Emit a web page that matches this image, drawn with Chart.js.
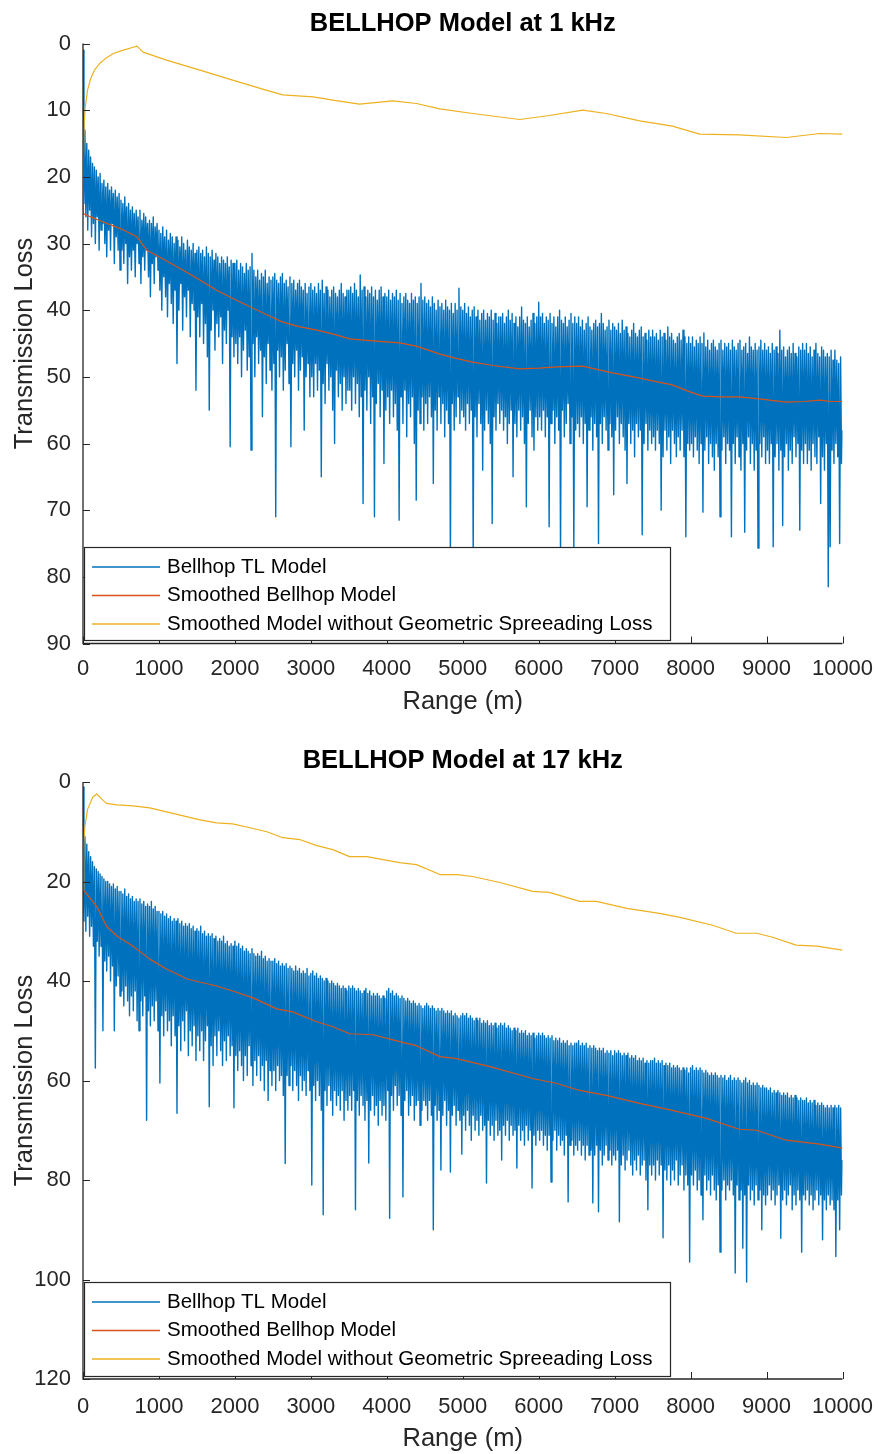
<!DOCTYPE html>
<html>
<head>
<meta charset="utf-8">
<title>BELLHOP transmission loss</title>
<script src="https://cdn.jsdelivr.net/npm/chart.js@4"></script>
<style>
  html, body { margin: 0; padding: 0; background: #fff; overflow: hidden; }
  .panel { position: absolute; left: 0; width: 881px; }
</style>
</head>
<body>
<div class="panel" style="top:0;height:727px"><canvas id="tl1k" width="881" height="727"></canvas></div>
<div class="panel" style="top:737px;height:717px"><canvas id="tl17k" width="881" height="717"></canvas></div>
<script>
// Bellhop output is sampled every 12.5 m from 0 to 10000 m
const RANGE_STEP = 12.5;
const RANGE_MAX = 10000;
const RANGE_TICK = 1000;

// ---- 1 kHz run (one row = 500 m) ---------------------------------------
const tl1k = [
  1, 24, 13, 26, 15, 28, 16, 25, 17, 29, 18, 27, 18.5, 30, 19, 26, 20, 31, 19.5, 28, 21, 27, 20.5, 30, 21.5, 32, 21, 28, 22, 31, 21.5, 27, 22.5, 33, 22, 29, 23, 31, 22.5, 34,
  23.5, 31, 24, 33, 23, 30, 24.5, 36, 24, 32, 25, 34, 24.5, 31, 25.5, 35, 25, 30, 26, 33, 25, 36, 26.5, 32, 25.5, 34, 26, 31, 27, 35, 26.5, 38, 27, 33, 26, 36, 27.5, 32, 27, 34,
  28, 37, 28.5, 40, 27.5, 35, 29, 38, 28, 41, 29.5, 36, 28.5, 39, 29, 42, 30, 37, 29, 48, 29.5, 40, 30.5, 36, 29, 43, 30, 38, 31, 41, 29.5, 37, 30.5, 44, 31, 39, 30, 40, 31.5, 52,
  31, 41, 30.5, 44, 31.5, 39, 31, 45, 32, 42, 30.5, 47, 31.5, 55, 32, 43, 31, 40, 32.5, 46, 31.5, 42, 32, 44, 33, 41, 32, 48, 32.5, 43, 33, 45, 32, 40, 33.5, 60.5, 32.5, 44, 33, 47,
  33, 45, 32.5, 48, 34, 44, 33, 50, 33.5, 46, 34.5, 43, 33, 49, 34, 47, 33.5, 61, 31.5, 45, 34, 50, 35, 44, 34, 48, 35.5, 46, 34.5, 56, 35, 47, 34, 51, 36, 45, 35, 49, 35.5, 52,
  35, 48, 34.5, 71, 35.5, 46, 36, 50, 35, 47, 34.5, 52, 36, 49, 35.5, 45, 36.5, 51, 35, 60.5, 36, 48, 35.5, 50, 37, 46, 36, 52, 35.5, 49, 36.5, 47, 37, 58, 36, 50, 37.5, 48, 36.5, 53,
  36, 50, 37, 53, 36.5, 48, 37.5, 52, 36, 49, 37, 65, 35.5, 51, 37.5, 54, 36.5, 48, 37, 52, 38, 50, 37, 55, 36.5, 60, 37.5, 49, 38, 53, 37, 51, 36, 55, 37.5, 50, 38, 54, 37, 52,
  37, 52, 36.5, 55, 37.5, 50, 36, 54, 37, 51, 38, 56, 34.7, 53, 37, 69, 36.5, 52, 38, 55, 37, 50, 37.5, 57, 36.5, 53, 38, 71, 37, 54, 38.5, 51, 37, 56, 36.5, 52, 38, 63, 37.5, 55,
  38, 53, 37, 57, 38.5, 52, 37.5, 56, 38, 54, 37, 58, 38.5, 71.5, 37.5, 53, 39, 57, 38, 52, 37.5, 59, 38.5, 54, 39, 56, 37.5, 53, 38.5, 60, 38, 68.5, 39, 55, 38, 57, 36, 53, 38.5, 58,
  38, 54, 39, 57, 38.5, 53, 39.5, 56, 38, 66, 39, 55, 40, 58, 38.5, 53, 39.5, 57, 39, 54, 40, 59, 38.5, 55, 39.5, 57, 40, 78, 39, 54, 40.5, 58, 39, 56, 40, 53, 36.7, 57, 39.5, 55,
  40, 56, 39, 58, 40.5, 54, 39.5, 57, 41, 55, 40, 77, 39.5, 56, 41, 59, 40, 54, 41.5, 57, 40.5, 64, 40, 58, 41.5, 55, 40.5, 57, 41, 60, 40, 72, 41.5, 56, 40.5, 58, 42, 54, 41, 57,
  41, 55, 40.5, 58, 42, 56, 41, 60, 40, 57, 41.5, 55, 40.5, 65, 42, 57, 41, 59, 42.5, 55, 41, 58, 39.5, 56, 41.5, 60, 42, 69.5, 41, 57, 42.5, 55, 41.5, 59, 40.5, 61, 42, 56, 41, 58,
  38.8, 56, 41, 58, 40.5, 55, 42, 59, 41, 56, 41.5, 72.5, 40.5, 57, 42, 55, 41, 60, 42.5, 56, 41, 58, 40, 77, 41.5, 55, 42, 59, 41, 57, 42.5, 54, 41.5, 60, 40.5, 56, 42, 76, 41, 58,
  42, 57, 41, 59, 42.5, 56, 41.5, 60, 43, 57, 42, 69.5, 41, 58, 42.5, 56, 43, 61, 42, 57, 41.5, 59, 42.5, 75, 42, 57, 40.5, 60, 42, 56, 43, 58, 42.5, 61, 41.5, 57, 43, 59, 42, 67.7,
  42.5, 58, 43, 56, 42, 60, 43.5, 57, 41.5, 59, 43, 61, 42.5, 66, 43.5, 57, 44, 60, 43, 58, 42, 62, 43.5, 57, 44, 59, 43, 58, 42.5, 73.7, 44, 60, 43.5, 57, 44.5, 61, 43, 58, 44, 60,
  43, 59, 44, 61, 43.5, 58, 44.5, 60, 43, 70, 44, 62, 43.5, 58, 44.5, 61, 42.5, 59, 44, 63, 43.5, 58, 44.5, 60, 45, 62, 44, 59, 43.5, 61, 44.5, 58, 43, 62, 44, 74, 45, 60, 44, 61,
  45, 60, 44, 62, 45.5, 59, 44.5, 61, 45, 63, 44, 60, 45, 70.3, 43.4, 61, 45.5, 59, 44.5, 63, 46, 60, 45, 62, 44.5, 64, 45.5, 60, 46, 62, 45, 71, 44.5, 61, 46, 59, 45, 63, 45.5, 60,
  45, 61, 46, 74, 44.5, 60, 45.5, 63, 46, 59, 45, 62, 44.5, 64, 46, 60, 45.5, 73.3, 45, 61, 46.5, 59, 44, 63, 45.5, 60, 46, 64, 45, 61, 46, 75.7, 45.5, 60, 44.5, 62, 46, 59, 45, 63,
  46, 61, 45.5, 63, 46.5, 60, 45, 75.5, 46, 62, 45.5, 60, 46.5, 64, 43, 61, 46, 72.3, 45.5, 62, 47, 60, 46, 64, 45.5, 61, 46.5, 63, 45, 59, 46.5, 62, 47, 60, 45.5, 73, 46, 61, 45, 63,
  46, 60, 45, 63, 46.5, 61, 45.5, 64, 47, 60, 46, 62, 45, 63, 46.5, 59, 47, 69, 45.5, 62, 46, 64, 47, 60, 46.5, 81.5, 47, 75.5, 46, 61, 47.5, 63, 46, 60, 47.5, 62, 48, 75, 47, 63,
  58
];
const smoothRange1k = [0, 100, 250, 500, 710, 840, 1000, 1320, 1500, 1760, 2000, 2200, 2420, 2630, 2860,
  3080, 3300, 3510, 3820, 4170, 4390, 4700, 4900, 5130, 5400, 5750, 6000, 6240, 6580, 6970,
  7250, 7500, 7760, 8000, 8160, 8400, 8640, 8900, 9260, 9500, 9700, 9850, 10000];
const smooth1k = [25.5, 26, 26.7, 27.8, 29, 31, 32, 34, 35.2, 37, 38.4, 39.5, 40.7, 41.8, 42.5,
  43, 43.6, 44.3, 44.6, 44.9, 45.4, 46.6, 47.2, 47.8, 48.3, 48.8, 48.7, 48.5, 48.4, 49.4,
  50, 50.6, 51.2, 52.3, 52.9, 53, 53, 53.3, 53.8, 53.7, 53.5, 53.7, 53.7];
const flatRange1k = [0, 5, 15, 30, 60, 100, 150, 220, 300, 400, 530, 650, 710, 790, 1100,
  1540, 1970, 2410, 2630, 3030, 3290, 3640, 4080, 4390, 4700, 5130, 5750, 6140, 6580, 6890,
  7330, 7760, 8120, 8640, 9260, 9700, 10000];
const flat1k = [25.4, 18, 12, 9.5, 7, 5.3, 4, 3, 2.2, 1.5, 1, 0.6, 0.4, 1.3, 2.5,
  4, 5.5, 7, 7.7, 8, 8.5, 9.1, 8.6, 9, 9.8, 10.5, 11.4, 10.8, 10, 10.5,
  11.6, 12.4, 13.6, 13.7, 14.1, 13.5, 13.6];

// ---- 17 kHz run (one row = 500 m) --------------------------------------
const tl17k = [
  1, 28, 11, 30, 12.5, 27, 14, 31, 15, 29, 16, 33, 17, 57.5, 17.5, 32, 18, 35, 18.5, 33, 19, 50, 19.5, 36, 20, 38, 20, 35, 20.5, 40, 21, 37, 20.5, 50, 21.5, 41, 21, 39, 22, 43,
  22, 42, 22.5, 45, 21.5, 41, 23, 44, 22.5, 47, 23.5, 43, 23, 46, 24, 42, 23.5, 48, 24, 50, 23.5, 44, 24.5, 47, 24, 43, 25, 68, 24.5, 46, 25, 49, 24, 45, 25.5, 48, 25, 44, 26, 50,
  26, 60.5, 26.5, 47, 26, 51, 27, 46, 26.5, 50, 27.5, 48, 27, 53, 28, 47, 27.5, 51, 28, 66.6, 27.5, 49, 28.5, 54, 28, 48, 29, 52, 28.5, 46, 29, 55, 28.5, 50, 29.5, 53, 29, 49, 30, 56,
  29.5, 51, 30, 54, 29, 50, 30.5, 56, 30, 52, 31, 49, 30.5, 65.3, 31, 53, 30.5, 57, 31.5, 51, 31, 55, 32, 50, 31.5, 54, 32, 57, 31, 52, 32.5, 56, 32, 51, 33, 55, 32.5, 53, 33, 65.5,
  32, 55, 33, 58, 32.5, 54, 33.5, 57, 33, 60, 34, 55, 33.5, 59, 34, 53, 34.5, 57, 33.5, 61, 34.5, 56, 35, 59, 34.5, 55, 35, 60, 34, 57, 35.5, 62, 35, 56, 36, 64, 35.5, 58, 36, 61,
  36, 58, 35.5, 62, 36.5, 57, 36, 60, 37, 59, 36.5, 63, 37, 76.7, 36.5, 59, 37.5, 61, 37, 57, 37.5, 62, 38, 58, 37, 61, 38, 64, 37.5, 59, 38.5, 62, 38, 60, 38.5, 63, 37.5, 58, 39, 62,
  38.5, 81, 38, 61, 39, 64, 38.5, 60, 39.5, 63, 39, 66, 39.5, 87, 40, 62, 39.5, 65, 40, 61, 40.5, 64, 40, 67, 40.5, 62, 41, 65, 40.5, 63, 41, 66, 41.5, 62, 41, 68, 41.5, 64, 42, 66,
  41, 63, 41.5, 66, 41, 62, 41.5, 86, 42, 64, 41.5, 67, 42, 63, 42.5, 65, 42, 68, 41.5, 64, 42.5, 76.6, 42, 66, 43, 63, 42.5, 67, 43, 65, 42.5, 69, 43, 64, 43.5, 67, 43, 65, 43.5, 68,
  42, 62, 41.5, 87.7, 42.5, 63, 42, 66, 43, 61, 42.5, 65, 43, 63, 43.5, 67, 43, 83.4, 43.5, 64, 44, 62, 43.5, 67, 44, 65, 44.5, 63, 44, 68, 44.5, 65, 45, 64, 44.5, 69, 45, 66, 45.5, 64,
  45, 65, 44.5, 68, 45, 64, 45.5, 67, 45, 90, 45.5, 65, 46, 68, 45.5, 66, 46, 78, 45.5, 67, 46, 64, 46.5, 69, 46, 66, 46.5, 78.4, 46, 67, 47, 65, 46.5, 69, 47, 66, 47.5, 68, 47, 74.8,
  46.5, 67, 47, 70, 46.5, 66, 47.5, 69, 47, 72, 47.5, 67, 48, 70, 47.5, 68, 48, 71, 47.5, 67, 48.5, 70, 48, 69, 48.5, 80.6, 48, 68, 49, 71, 48.5, 69, 49, 72, 48.5, 68, 49.5, 71, 49, 70,
  48.5, 76, 49, 69, 48.5, 71, 49.5, 68, 49, 72, 49.5, 69, 50, 71, 49.5, 70, 50, 77.6, 49.5, 69, 50.5, 72, 50, 70, 50.5, 73, 50, 69, 51, 72, 50.5, 70, 51, 81.6, 50.5, 71, 51.5, 73, 51, 70,
  50.5, 72, 51, 70, 50.5, 73, 51, 71, 51.5, 74, 51, 71, 51.5, 80.4, 51, 72, 52, 70, 51.5, 74, 52, 71, 51.5, 73, 52.5, 72, 52, 75, 52.5, 71, 52, 84.4, 53, 73, 52.5, 72, 53, 75, 52.5, 73,
  52.5, 74, 52, 72, 53, 75, 52.5, 73, 53, 76, 52.5, 73, 53.5, 75, 53, 74, 53.5, 84.6, 53, 75, 53.5, 73, 54, 86.4, 53.5, 74, 54, 77, 53.5, 75, 54.5, 73, 54, 76, 54.5, 74, 54, 77, 55, 75,
  54, 76, 54.5, 74, 54, 88.4, 54.5, 77, 55, 75, 54.5, 78, 55, 76, 54.5, 74, 55.5, 77, 55, 79, 55.5, 76, 55, 78, 56, 75, 55.5, 79, 56, 77, 55.5, 76, 56.5, 80, 56, 86, 56.5, 77, 56, 79,
  56, 77, 55.5, 80, 56.5, 76, 56, 79, 56.5, 77, 56, 91.6, 57, 78, 56.5, 80, 57, 77, 56.5, 81, 57.5, 78, 57, 80, 57.5, 76, 57, 81, 57.5, 79, 58, 77, 57.5, 82, 58, 79, 57.5, 81, 58.5, 96.5,
  57.5, 79, 57, 81, 58, 78, 57.5, 82, 58, 80, 57.5, 83, 58, 88, 58.5, 79, 58, 82, 58.5, 80, 59, 83, 58.5, 79, 59, 82, 58.5, 84, 59, 81, 59.5, 94.5, 59, 82, 59.5, 80, 59, 84, 60, 81,
  59.5, 82, 59, 80, 60, 83, 59.5, 98.7, 60, 81, 59.5, 84, 60, 82, 60.5, 93.7, 60, 83, 59.5, 100.5, 60.5, 81, 60, 84, 61, 82, 60.5, 85, 61, 81, 60.5, 84, 61, 82, 61.5, 90, 61, 83, 61.5, 85,
  61.5, 83, 62, 81, 61.5, 84, 62.5, 82, 62, 85, 62.5, 83, 62, 81, 62.5, 91.7, 63, 84, 62.5, 82, 63, 85, 62.5, 83, 63.5, 81, 63, 86, 63.5, 83, 63, 85, 63.5, 82, 64, 84, 63.5, 94.5, 64, 83,
  64, 84, 63.5, 82, 64.5, 85, 64, 83, 64.5, 86, 64, 84, 65, 82, 64.5, 85, 65, 83, 64.5, 92, 65, 84, 65.5, 86, 65, 83, 65.5, 85, 65, 84, 65.5, 86, 65, 95.4, 65.5, 84, 65, 90, 65.5, 83,
  76
];
const smoothRange17k = [0, 180, 310, 450, 660, 880, 1100, 1370, 1760, 1970, 2240, 2550, 2760, 3080, 3290,
  3510, 3820, 4170, 4390, 4700, 4920, 5360, 5920, 6240, 6540, 6890, 7330, 7760, 8210, 8640,
  8870, 9260, 9700, 10000];
const smooth17k = [21.6, 25, 29, 31, 33, 35.6, 37.6, 39.6, 41, 42, 43.4, 45.6, 46.2, 48.2, 49.2,
  50.6, 50.8, 52.2, 53, 55.2, 55.6, 57.2, 59.6, 60.6, 62, 63, 64.6, 66, 67.6, 69.8,
  70, 72, 72.8, 73.6];
const flatRange17k = [0, 10, 25, 60, 130, 180, 250, 310, 450, 660, 880, 1100, 1320, 1540, 1760,
  1970, 2200, 2420, 2630, 2860, 3080, 3290, 3510, 3740, 3950, 4170, 4390, 4700, 4920, 5130,
  5490, 5920, 6140, 6540, 6760, 7160, 7590, 7860, 8290, 8600, 8870, 9080, 9390, 9660, 10000];
const flat17k = [21.6, 12, 9, 5.5, 3, 2.4, 3.5, 4.3, 4.6, 4.8, 5.2, 6, 6.8, 7.6, 8.2,
  8.4, 9.2, 10, 11.2, 11.6, 12.8, 13.6, 15, 15, 15.6, 16.2, 16.6, 18.6, 18.6, 19,
  20.2, 22, 22.2, 24, 24, 25.4, 26.4, 27.2, 28.8, 30.4, 30.4, 31.2, 32.8, 33, 33.8];

const seriesNames = ['Bellhop TL Model', 'Smoothed Bellhop Model', 'Smoothed Model without Geometric Spreeading Loss'];
const seriesColors = ['#0072BD', '#D95319', '#EDB120'];

// ---- drawing ----------------------------------------------------------
const FONT = "'Liberation Sans', Arial, Helvetica, sans-serif";
const INK = '#262626';
const TICK_LEN = 7;

const sampled = ys => ys.map((y, i) => ({ x: i * RANGE_STEP, y }));
const paired = (xs, ys) => ys.map((y, i) => ({ x: xs[i], y }));

// Axis lines with inward ticks, then the boxed legend in the lower-left corner
const axisFrame = {
  id: 'axisFrame',
  afterDatasetsDraw(chart) {
    const { ctx, chartArea: a, scales: { x, y } } = chart;
    ctx.save();
    ctx.strokeStyle = INK;
    ctx.lineWidth = 1.3;
    ctx.beginPath();
    ctx.moveTo(a.left, a.top);
    ctx.lineTo(a.left, a.bottom);
    ctx.lineTo(a.right, a.bottom);
    ctx.stroke();

    ctx.lineWidth = 1;
    ctx.beginPath();
    x.ticks.forEach(t => {
      const px = Math.round(x.getPixelForValue(t.value)) + 0.5;
      ctx.moveTo(px, a.bottom);
      ctx.lineTo(px, a.bottom - TICK_LEN);
    });
    y.ticks.forEach(t => {
      const py = Math.round(y.getPixelForValue(t.value)) + 0.5;
      ctx.moveTo(a.left, py);
      ctx.lineTo(a.left + TICK_LEN, py);
    });
    ctx.stroke();

    // legend
    const bx = Math.round(a.left) + 1.5;
    const by = Math.round(a.bottom - 97) + 0.5;
    const bw = 586;
    const bh = Math.round(a.bottom - 3.5) + 0.5 - by;
    ctx.fillStyle = '#fff';
    ctx.fillRect(bx, by, bw, bh);
    ctx.strokeStyle = INK;
    ctx.lineWidth = 1.2;
    ctx.strokeRect(bx, by, bw, bh);

    ctx.font = `20.5px ${FONT}`;
    ctx.textBaseline = 'middle';
    ctx.textAlign = 'left';
    chart.data.datasets.forEach((ds, i) => {
      const ry = by + 19.5 + i * 28.5;
      ctx.strokeStyle = ds.borderColor;
      ctx.lineWidth = 1.4;
      ctx.beginPath();
      ctx.moveTo(bx + 7.5, ry);
      ctx.lineTo(bx + 75.5, ry);
      ctx.stroke();
      ctx.fillStyle = '#000';
      ctx.fillText(ds.label, bx + 82.5, ry);
    });
    ctx.restore();
  }
};

function buildChart(id, cfg) {
  return new Chart(document.getElementById(id), {
    type: 'line',
    data: {
      datasets: [
        { label: seriesNames[0], data: sampled(cfg.tl), borderColor: seriesColors[0], borderWidth: 1.4, order: 3 },
        { label: seriesNames[1], data: paired(cfg.smoothRange, cfg.smooth), borderColor: seriesColors[1], borderWidth: 1.2, order: 2 },
        { label: seriesNames[2], data: paired(cfg.flatRange, cfg.flat), borderColor: seriesColors[2], borderWidth: 1.2, order: 1 }
      ]
    },
    options: {
      responsive: false,
      animation: false,
      devicePixelRatio: 1,
      parsing: false,
      normalized: true,
      events: [],
      elements: { point: { radius: 0 }, line: { tension: 0, borderJoinStyle: 'round' } },
      layout: { padding: { left: 0, right: 38.5, top: 0, bottom: cfg.padBottom } },
      plugins: {
        legend: { display: false },
        tooltip: { enabled: false },
        title: {
          display: true,
          text: cfg.title,
          fullSize: false,
          color: '#000',
          font: { family: FONT, size: 25.5, weight: 'bold' },
          padding: { top: 8.3, bottom: cfg.titleGap }
        }
      },
      scales: {
        x: {
          type: 'linear',
          min: 0,
          max: RANGE_MAX,
          // gap between axis and labels comes from the (undrawn) tick length
          grid: { display: false, drawTicks: true, tickLength: cfg.xTickPad },
          border: { display: false },
          ticks: {
            stepSize: RANGE_TICK,
            autoSkip: false,
            maxRotation: 0,
            color: INK,
            padding: 0,
            font: { family: FONT, size: 22 },
            callback: v => String(v)
          },
          title: {
            display: true,
            text: 'Range (m)',
            color: INK,
            font: { family: FONT, size: 25.5 },
            padding: { top: 0, bottom: cfg.xTitlePad }
          },
          afterFit(scale) { scale.height = 75; }
        },
        y: {
          type: 'linear',
          reverse: true,
          min: 0,
          max: cfg.yMax,
          grid: { display: false, drawTicks: false, tickLength: 0 },
          border: { display: false },
          ticks: {
            stepSize: cfg.yStep,
            color: INK,
            padding: 12,
            font: { family: FONT, size: 22 },
            callback: v => String(v)
          },
          title: {
            display: true,
            text: 'Transmission Loss',
            color: INK,
            font: { family: FONT, size: 25.5 },
            padding: { top: 9.4, bottom: 0 }
          },
          afterFit(scale) { scale.width = 83; }
        }
      }
    },
    plugins: [axisFrame]
  });
}

buildChart('tl1k', {
  title: 'BELLHOP Model at 1 kHz',
  tl: tl1k, smoothRange: smoothRange1k, smooth: smooth1k, flatRange: flatRange1k, flat: flat1k,
  yMax: 90, yStep: 10,
  titleGap: 4.6, padBottom: 8.5, xTickPad: 12.4, xTitlePad: 1.7
});

buildChart('tl17k', {
  title: 'BELLHOP Model at 17 kHz',
  tl: tl17k, smoothRange: smoothRange17k, smooth: smooth17k, flatRange: flatRange17k, flat: flat17k,
  yMax: 120, yStep: 20,
  titleGap: 6.1, padBottom: 0, xTickPad: 15, xTitlePad: 0
});
</script>
</body>
</html>
